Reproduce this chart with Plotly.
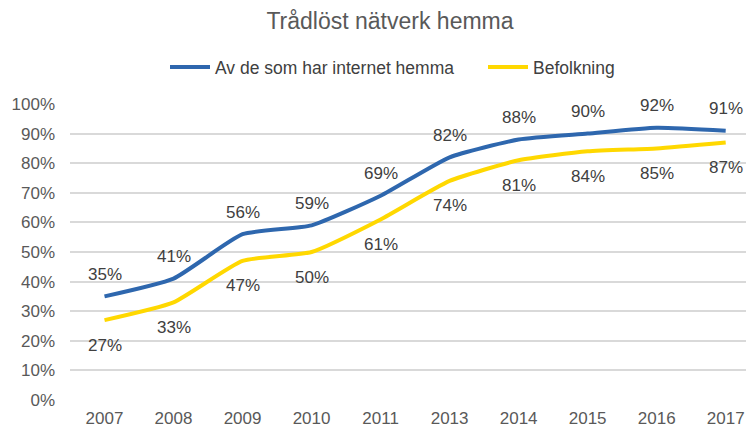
import plotly.graph_objects as go

years = ["2007", "2008", "2009", "2010", "2011", "2013", "2014", "2015", "2016", "2017"]
internet_home = [35, 41, 56, 59, 69, 82, 88, 90, 92, 91]
population = [27, 33, 47, 50, 61, 74, 81, 84, 85, 87]
y_ticks = list(range(0, 101, 10))

blue = "#2E67AE"
yellow = "#FFD800"
label_color = "#404040"
tick_color = "#595959"
font_family = "Liberation Sans, Arial, sans-serif"

# page body has an 8px default margin; figure is sized to fill the rest of the 754x428 window
W, H = 746, 420

fig = go.Figure()
fig.add_trace(go.Scatter(x=years, y=internet_home, mode="lines",
                         name="Av de som har internet hemma", legend="legend",
                         line=dict(color=blue, width=4, shape="spline", smoothing=0.5)))
fig.add_trace(go.Scatter(x=years, y=population, mode="lines",
                         name="Befolkning", legend="legend2",
                         line=dict(color=yellow, width=4, shape="spline", smoothing=0.5)))

annotations = []
for i, y in enumerate(internet_home):
    annotations.append(dict(x=i, y=y, xref="x", yref="y", text=f"{y}%", showarrow=False,
                            yshift=22,
                            font=dict(size=17, color=label_color, family=font_family)))
for i, y in enumerate(population):
    annotations.append(dict(x=i, y=y, xref="x", yref="y", text=f"{y}%", showarrow=False,
                            yshift=-25,
                            font=dict(size=17, color=label_color, family=font_family)))

legend_common = dict(orientation="h", xanchor="left", y=1 - 59 / H, yref="container",
                     yanchor="middle", xref="container",
                     font=dict(size=17.5, color=label_color, family=font_family),
                     itemwidth=40, bgcolor="rgba(0,0,0,0)")

fig.update_layout(
    width=W, height=H,
    margin=dict(l=62, r=0, t=96, b=28),
    paper_bgcolor="white", plot_bgcolor="white",
    font=dict(family=font_family, color=tick_color),
    title=dict(text="Trådlöst nätverk hemma", x=382 / W, xanchor="center",
               y=1 - 13 / H, yanchor="middle",
               font=dict(size=23, color=tick_color, family=font_family)),
    legend=dict(x=157 / W, **legend_common),
    legend2=dict(x=475 / W, **legend_common),
    annotations=annotations,
    showlegend=True,
)
fig.update_xaxes(type="category", range=[-0.5, 9.41], showgrid=False, zeroline=False,
                 showline=False, ticks="", ticklabelstandoff=6,
                 tickfont=dict(size=17, color=tick_color, family=font_family))
fig.update_yaxes(range=[0, 100], tickvals=y_ticks, ticktext=[f"{v}%" for v in y_ticks],
                 showgrid=True, gridcolor="#D9D9D9", gridwidth=1.5, zeroline=False,
                 showline=False, ticklabelstandoff=14,
                 tickfont=dict(size=17, color=tick_color, family=font_family))

fig.write_html("out.html")
